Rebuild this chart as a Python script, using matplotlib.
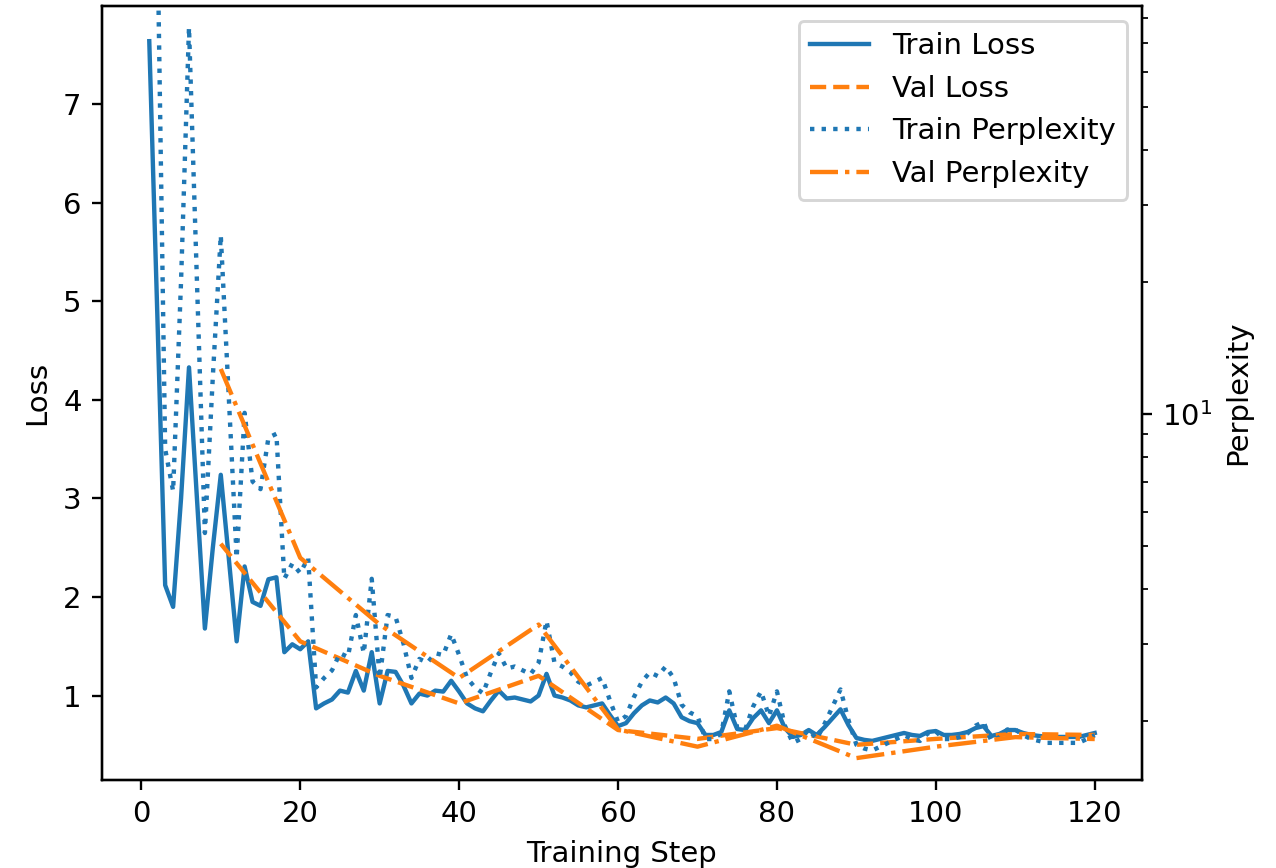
import numpy as np
import matplotlib
matplotlib.use("Agg")
import matplotlib.pyplot as plt

steps = list(range(1, 121))
train_loss = [
    7.64, 4.9, 2.12, 1.9, 3.0, 4.33, 3.0, 1.68, 2.5, 3.24,
    2.4, 1.55, 2.31, 1.95, 1.91, 2.18, 2.2, 1.44, 1.52, 1.47,
    1.55, 0.87, 0.92, 0.96, 1.05, 1.03, 1.25, 1.05, 1.44, 0.92,
    1.25, 1.24, 1.1, 0.92, 1.02, 1.0, 1.05, 1.04, 1.15, 1.04,
    0.92, 0.87, 0.84, 0.95, 1.05, 0.97, 0.98, 0.96, 0.94, 1.0,
    1.22, 1.0, 0.98, 0.95, 0.9, 0.88, 0.9, 0.92, 0.8, 0.69,
    0.72, 0.82, 0.9, 0.95, 0.93, 0.98, 0.92, 0.78, 0.74, 0.72,
    0.6, 0.6, 0.63, 0.85, 0.66, 0.65, 0.77, 0.85, 0.72, 0.85,
    0.67, 0.58, 0.6, 0.65, 0.6, 0.68, 0.77, 0.86, 0.7, 0.57,
    0.55, 0.54, 0.56, 0.58, 0.6, 0.62, 0.6, 0.59, 0.63, 0.64,
    0.6, 0.6, 0.61, 0.63, 0.67, 0.69, 0.59, 0.61, 0.65, 0.65,
    0.62, 0.6, 0.59, 0.58, 0.58, 0.58, 0.58, 0.58, 0.6, 0.62,
]
val_steps = [10, 20, 30, 40, 50, 60, 70, 80, 90, 100, 110, 120]
val_loss = [2.54, 1.55, 1.2, 0.92, 1.2, 0.65, 0.56, 0.67, 0.5, 0.56, 0.61, 0.6]

# perplexity is exp(loss)
train_ppl = np.exp(train_loss)
val_ppl = np.exp(val_loss)

W, H, DPI = 1276, 868, 210
fig = plt.figure(figsize=(W / DPI, H / DPI), dpi=DPI)
ax = fig.add_axes([102 / W, 1 - 780 / H, (1142 - 102) / W, (780 - 6) / H])
ax2 = ax.twinx()

l1, = ax.plot(steps, train_loss, color="C0", linestyle="-", label="Train Loss")
l2, = ax.plot(val_steps, val_loss, color="C1", linestyle="--", label="Val Loss")
l3, = ax2.plot(steps, train_ppl, color="C0", linestyle=":", label="Train Perplexity")
l4, = ax2.plot(val_steps, val_ppl, color="C1", linestyle="-.", label="Val Perplexity")

ax2.set_yscale("log")
ax2.set_ylim(1.47, 85)

ax.set_xlabel("Training Step")
ax.set_ylabel("Loss")
ax2.set_ylabel("Perplexity")

ax.legend(handles=[l1, l2, l3, l4], loc="upper right")

fig.savefig("out.png", dpi=DPI)
